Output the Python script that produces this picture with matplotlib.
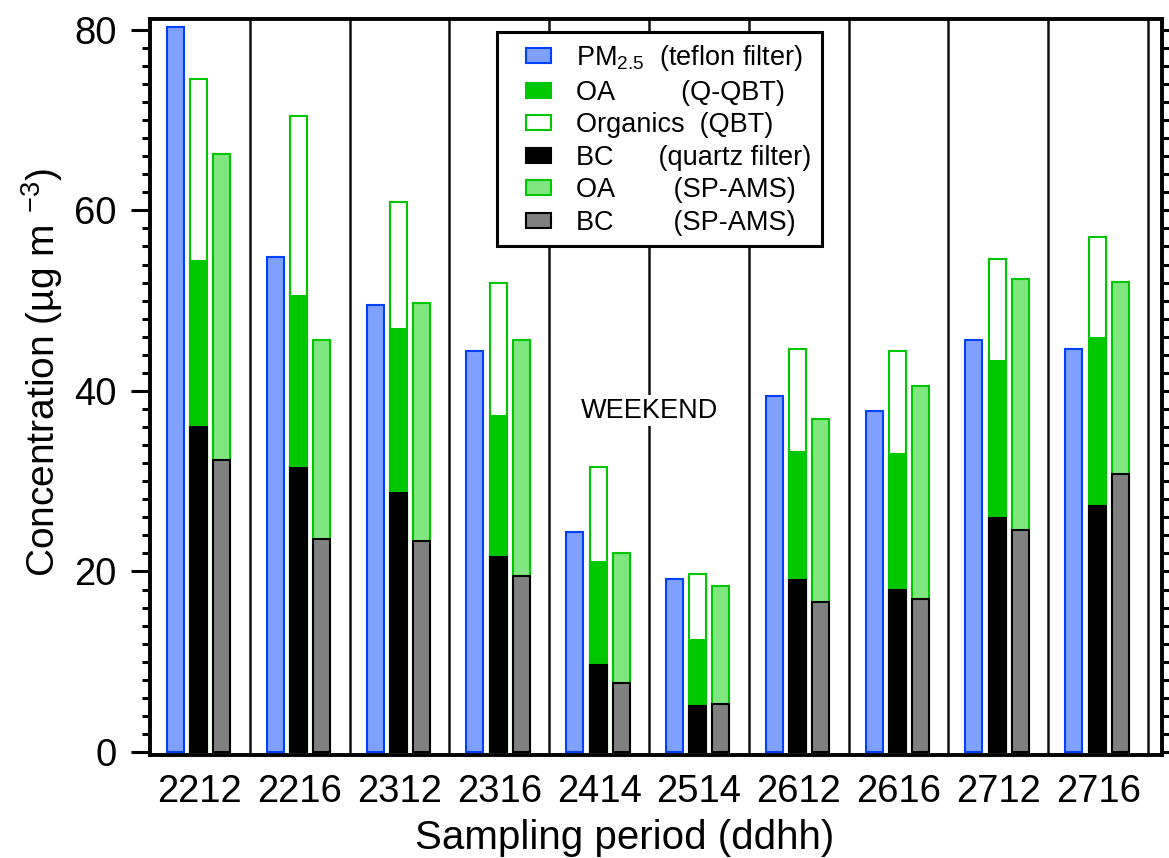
import matplotlib
matplotlib.use("Agg")
import matplotlib.pyplot as plt
import numpy as np
from matplotlib.patches import Rectangle
from matplotlib.legend_handler import HandlerPatch
from matplotlib.ticker import MultipleLocator

plt.rcParams['font.family'] = ['Liberation Sans', 'DejaVu Sans']
plt.rcParams['mathtext.default'] = 'regular'

categories = ['2212', '2216', '2312', '2316', '2414', '2514', '2612', '2616', '2712', '2716']
pm25 = [80.3, 54.8, 49.5, 44.4, 24.4, 19.2, 39.4, 37.8, 45.6, 44.6]
oa_qqbt = [54.4, 50.5, 46.9, 37.2, 21.0, 12.4, 33.2, 33.0, 43.3, 45.9]
org_qbt = [74.6, 70.5, 60.9, 52.0, 31.6, 19.7, 44.6, 44.4, 54.6, 57.1]
bc_quartz = [36.0, 31.5, 28.7, 21.6, 9.6, 5.1, 19.1, 18.0, 25.9, 27.3]
oa_spams = [66.3, 45.6, 49.7, 45.6, 22.0, 18.4, 36.9, 40.6, 52.4, 52.1]
bc_spams = [32.3, 23.6, 23.4, 19.5, 7.7, 5.3, 16.6, 16.9, 24.6, 30.8]

legend_names = [r'PM$_{2.5}$', 'OA', 'Organics', 'BC', 'OA', 'BC']
legend_methods = ['(teflon filter)', '(Q-QBT)', '(QBT)', '(quartz filter)', '(SP-AMS)', '(SP-AMS)']
method_offsets_px = [82, 102, 123, 86, 94, 94]   # where "(" starts, px from text start

LEG_FS = 19.5

fig = plt.figure(figsize=(11.69, 8.58), dpi=100)
ax = fig.add_axes([150/1169, (858-755)/858, 1012/1169, 736/858])

x = np.arange(len(categories))
w = 0.17
lw = 1.5
blue_f, blue_e = '#80a0ff', '#0040ff'
green = '#00c800'
lgreen = '#80e680'
gray = '#808080'

for s in np.arange(0.5, 10, 1.0):
    ax.axvline(s, color='#111111', lw=1.8, zorder=1)

h_pm = ax.bar(x - 0.245, pm25, w, color=blue_f, edgecolor=blue_e, lw=lw, zorder=3)
h_org = ax.bar(x - 0.01, org_qbt, w, color='white', edgecolor=green, lw=lw, zorder=3)
h_oa = ax.bar(x - 0.01, oa_qqbt, w, color=green, edgecolor=green, lw=lw, zorder=4)
h_bc = ax.bar(x - 0.01, bc_quartz, w, color='black', edgecolor='black', lw=lw, zorder=5)
h_oas = ax.bar(x + 0.22, oa_spams, w, color=lgreen, edgecolor=green, lw=lw, zorder=3)
h_bcs = ax.bar(x + 0.22, bc_spams, w, color=gray, edgecolor='black', lw=lw, zorder=4)

ax.set_xlim(-0.5, 9.64)
ax.set_ylim(-0.33, 81.2)
ax.set_xticks(x)
ax.set_xticklabels(categories)
ax.set_yticks([0, 20, 40, 60, 80])
ax.yaxis.set_minor_locator(MultipleLocator(2))
ax.tick_params(axis='x', length=0, pad=14, labelsize=27.5)
ax.tick_params(axis='y', which='major', direction='out', length=14, width=2.2,
               labelsize=27.5, pad=10, right=True, labelright=False)
ax.tick_params(axis='y', which='minor', direction='out', length=6, width=2.2, right=True)
for sp in ax.spines.values():
    sp.set_linewidth(2.8)

ax.set_xlabel('Sampling period (ddhh)', fontsize=29)
ax.xaxis.set_label_coords(0.469, -0.113)
ax.xaxis.label.set_va('center')
ax.set_ylabel(r'Concentration (µg m $^{-3}$)', fontsize=28)
ax.yaxis.set_label_coords(-0.107, 0.52)
ax.yaxis.label.set_va('center')

ax.text(4.5, 37.8, 'WEEKEND', fontsize=LEG_FS, ha='center', va='center', zorder=6,
        bbox=dict(facecolor='white', edgecolor='none', pad=2))

# build legend labels with spaces so the method text lines up like the reference
renderer = fig.canvas.get_renderer()


def text_width(s):
    t = fig.text(0, 0, s, fontsize=LEG_FS)
    wd = t.get_window_extent(renderer).width
    t.remove()
    return wd


paren_w = text_width('(')
labels = []
for name, meth, target in zip(legend_names, legend_methods, method_offsets_px):
    best_n, best_err = 1, 1e9
    for n in range(1, 25):
        wd = text_width(name + ' ' * n + '(') - paren_w
        err = abs(wd - target)
        if err < best_err:
            best_n, best_err = n, err
    labels.append(name + ' ' * best_n + meth)


def make_rect(legend, orig_handle, xdescent, ydescent, width, height, fontsize):
    rw = 0.58 * width
    rh = 0.8 * height
    return Rectangle((-xdescent + width - rw, -ydescent + (height - rh) / 2), rw, rh)


handles = [h_pm[0], h_oa[0], h_org[0], h_bc[0], h_oas[0], h_bcs[0]]
leg = ax.legend(handles, labels, loc='upper left', bbox_to_anchor=(0.343, 0.982),
                borderaxespad=0, fontsize=LEG_FS, fancybox=False, framealpha=1,
                edgecolor='black', handlelength=1.6, handleheight=0.7,
                handletextpad=0.9, labelspacing=0.24, borderpad=0.4,
                handler_map={Rectangle: HandlerPatch(patch_func=make_rect)})
leg.get_frame().set_linewidth(2.2)
leg.set_zorder(10)

fig.savefig('out.png', dpi=100)
